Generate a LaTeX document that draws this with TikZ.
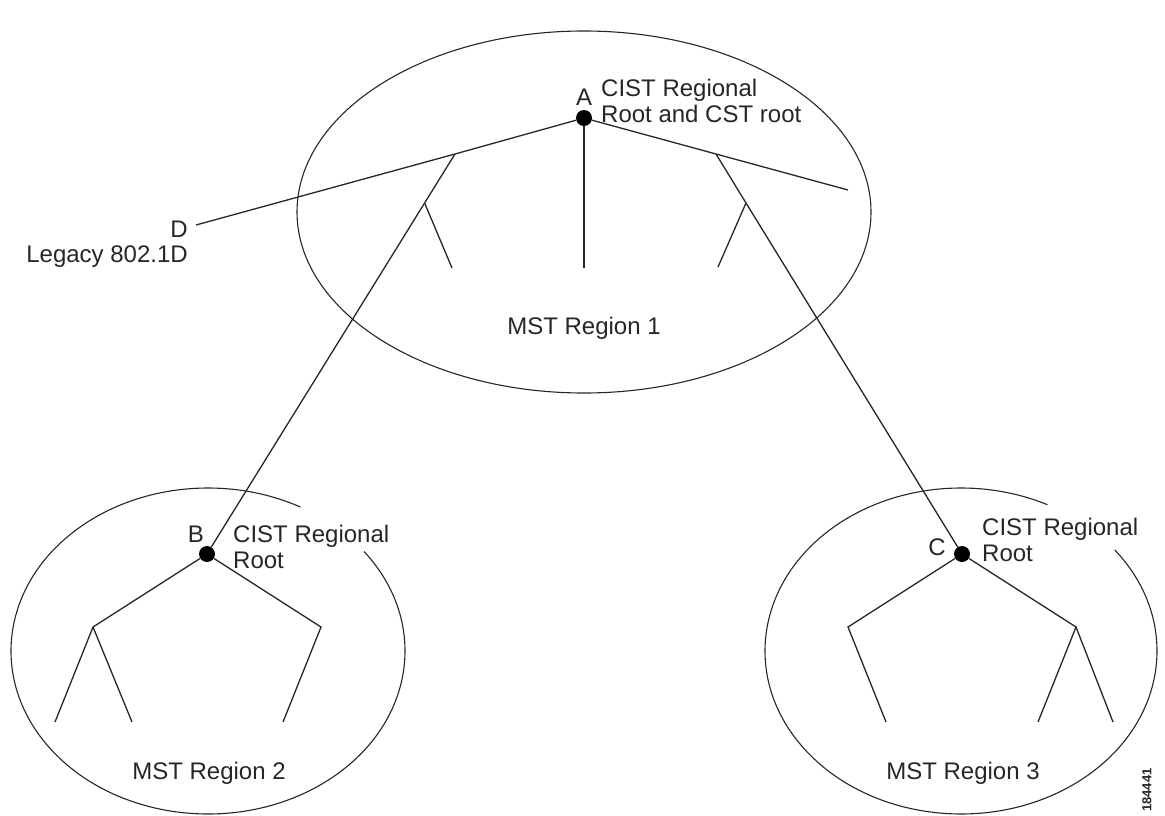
\documentclass[tikz,border=0pt]{standalone}
\usepackage{fontspec}
\setmainfont{Liberation Sans}
\usetikzlibrary{shapes.geometric}
\begin{document}
\begin{tikzpicture}[x=1pt,y=-1pt,
  link/.style={line width=1.3pt, draw=black!85},
  region/.style={line width=1.1pt, draw=black!85},
  dot/.style={circle, fill=black, inner sep=0pt, minimum size=16pt},
  lbl/.style={font=\fontsize{24}{26}\selectfont, inner sep=0pt, text=black!85},
  desc/.style={lbl, align=left, anchor=west},
  tag/.style={font=\fontsize{13}{13}\selectfont\bfseries, inner sep=0pt, text=black!85}
]
\useasboundingbox (0,0) rectangle (1165,816);

% regions
\node[region, ellipse, minimum width=574pt, minimum height=362pt, inner sep=0pt] (R1) at (584,212) {};
\draw[region] (208,651) ++(-37.6:197 and 163) arc[start angle=-37.6, end angle=298, x radius=197, y radius=163];
\draw[region] (961,651) ++(-38.3:196 and 163) arc[start angle=-38.3, end angle=296.2, x radius=196, y radius=163];

% root bridges
\node[dot] (A) at (584,118) {};
\node[dot] (B) at (207,554) {};
\node[dot] (C) at (962,554) {};

% tree coordinates
\coordinate (D) at (196,225);
\coordinate (P1) at (455,154);
\coordinate (P1s) at (424.6,203);
\coordinate (L1) at (452,268);
\coordinate (M1) at (584,268);
\coordinate (E1) at (848,190);
\coordinate (P2) at (716,154);
\coordinate (P2s) at (746,203);
\coordinate (L2) at (718,267);

\coordinate (B1) at (93,627);
\coordinate (B2) at (321,627);
\coordinate (B11) at (55,722);
\coordinate (B12) at (132,722);
\coordinate (B21) at (283,722);

\coordinate (C1) at (848,627);
\coordinate (C2) at (1076,627);
\coordinate (C11) at (886,722);
\coordinate (C21) at (1038,722);
\coordinate (C22) at (1113,722);

% region 1 tree and links
\draw[link] (D) -- (P1) -- (A);
\draw[link] (A) -- (P2) -- (E1);
\draw[link] (A) -- (M1);
\draw[link] (P1) -- (P1s) -- (B);
\draw[link] (P1s) -- (L1);
\draw[link] (P2) -- (P2s) -- (C);
\draw[link] (P2s) -- (L2);

% region 2 tree
\draw[link] (B11) -- (B1) -- (B);
\draw[link] (B) -- (B2) -- (B21);
\draw[link] (B1) -- (B12);

% region 3 tree
\draw[link] (C11) -- (C1) -- (C);
\draw[link] (C) -- (C2) -- (C21);
\draw[link] (C2) -- (C22);

% labels
\node[lbl] (Alab) at (584,97) {A};
\node[desc] (Atext) at (601,101) {CIST Regional\\Root and CST root};
\node[lbl] (Blab) at (196,534) {B};
\node[desc] (Btext) at (233,546.5) {CIST Regional\\Root};
\node[lbl] (Clab) at (937,547) {C};
\node[desc] (Ctext) at (982,540) {CIST Regional\\Root};
\node[lbl, anchor=east] (Dlab) at (188,229) {D};
\node[lbl, anchor=east] (Dtext) at (188,257) {Legacy 802.1D};

\node[lbl] (R1lab) at (584,328) {MST Region 1};
\node[lbl] (R2lab) at (209,773) {MST Region 2};
\node[lbl] (R3lab) at (963,773) {MST Region 3};

\node[tag, rotate=90] (fig) at (1147,790) {184441};
\end{tikzpicture}
\end{document}
